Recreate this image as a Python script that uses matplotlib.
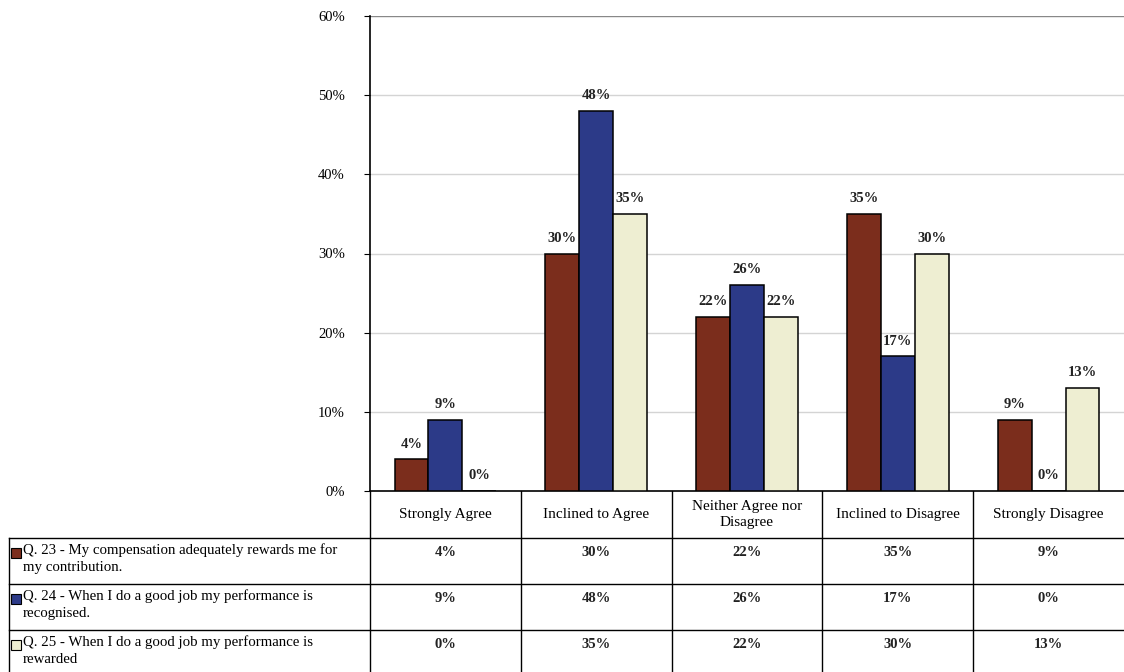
import matplotlib.pyplot as plt
from matplotlib.patches import Rectangle

plt.rcParams['font.family'] = ['Liberation Serif', 'DejaVu Serif']

categories = ["Strongly Agree", "Inclined to Agree", "Neither Agree nor\nDisagree",
              "Inclined to Disagree", "Strongly Disagree"]
series_names = ["Q. 23 - My compensation adequately rewards me for\nmy contribution.",
                "Q. 24 - When I do a good job my performance is\nrecognised.",
                "Q. 25 - When I do a good job my performance is\nrewarded"]
q23 = [4, 30, 22, 35, 9]
q24 = [9, 48, 26, 17, 0]
q25 = [0, 35, 22, 30, 13]
series = [q23, q24, q25]
colors = ["#7b2d1c", "#2c3a88", "#eeeed2"]

W, H = 1124, 672
fig = plt.figure(figsize=(W / 100, H / 100), dpi=100)

# chart area (pixel layout of the sheet)
left, right, top, bottom = 370, 1124, 16, 491
ax = fig.add_axes([left / W, 1 - bottom / H, (right - left) / W, (bottom - top) / H])
ax.set_xlim(-0.5, len(categories) - 0.5)
ax.set_ylim(0, 60)

bw = 0.225
for k, (vals, col) in enumerate(zip(series, colors)):
    xs = [i + (k - 1) * bw for i in range(len(vals))]
    ax.bar(xs, vals, width=bw, color=col, edgecolor="black", linewidth=1.1, zorder=3)
    for x, v in zip(xs, vals):
        ax.text(x, v + 1.1, f"{v}%", ha="center", va="bottom", fontsize=10.5,
                fontweight="bold", color="#222222", zorder=4)

ax.set_yticks(range(0, 61, 10))
ax.set_yticklabels([f"{t}%" for t in range(0, 61, 10)], fontsize=10.5)
ax.tick_params(axis="y", direction="out", length=4, width=0.8, pad=14)
ax.set_xticks([])
for t in range(10, 61, 10):
    ax.axhline(t, color="#888888" if t == 60 else "#d4d4d4", linewidth=1, zorder=1)
for s in ["top", "right"]:
    ax.spines[s].set_visible(False)
ax.spines["left"].set_linewidth(1.2)
ax.spines["bottom"].set_linewidth(1.2)

# data table below the chart, drawn in pixel coordinates
tab = fig.add_axes([0, 0, 1, 1], zorder=-1)
tab.set_xlim(0, W)
tab.set_ylim(H, 0)
tab.axis("off")

col_w = (right - left) / len(categories)
head_top, head_bot = bottom, 538
row_h = 46
row_tops = [head_bot + r * row_h for r in range(len(series))]
tab_bot = row_tops[-1] + row_h
lab_left = 9

line_kw = dict(color="black", linewidth=1)
# vertical lines
tab.plot([left, left], [head_top, tab_bot], **line_kw)
tab.plot([lab_left, lab_left], [head_bot, tab_bot], **line_kw)
for i in range(1, len(categories)):
    x = left + i * col_w
    tab.plot([x, x], [head_top, tab_bot], **line_kw)
# horizontal lines
for y in row_tops:
    tab.plot([lab_left, W], [y, y], **line_kw)

for i, cat in enumerate(categories):
    tab.text(left + (i + 0.5) * col_w, (head_top + head_bot) / 2, cat,
             ha="center", va="center", fontsize=11, linespacing=1.25)

for r, (name, vals, col) in enumerate(zip(series_names, series, colors)):
    y0 = row_tops[r]
    tab.add_patch(Rectangle((lab_left + 2, y0 + 10), 10, 10, facecolor=col,
                            edgecolor="black", linewidth=0.8))
    tab.text(lab_left + 14, y0 + 5, name, ha="left", va="top", fontsize=10.7,
             linespacing=1.45)
    for i, v in enumerate(vals):
        tab.text(left + (i + 0.5) * col_w, y0 + 15, f"{v}%", ha="center",
                 va="center", fontsize=10.5, fontweight="bold", color="#222222")

fig.savefig("out.png", dpi=100)
